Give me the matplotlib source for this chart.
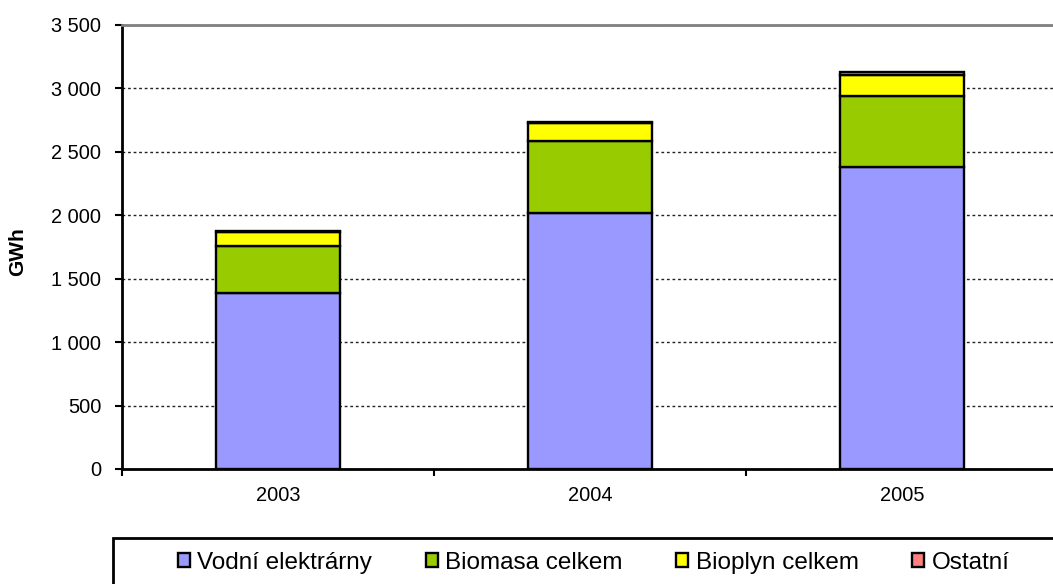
import matplotlib
matplotlib.use("Agg")
import matplotlib.pyplot as plt
from matplotlib.patches import Rectangle
from matplotlib.ticker import FuncFormatter, MultipleLocator, FixedLocator
import numpy as np

years = ["2003", "2004", "2005"]
vodni = [1387, 2016, 2381]
biomasa = [368, 567, 557]
bioplyn = [113, 145, 164]
ostatni = [5, 10, 27]

series = [
    ("Vodní elektrárny", vodni, "#9999FF"),
    ("Biomasa celkem", biomasa, "#99CC00"),
    ("Bioplyn celkem", bioplyn, "#FFFF00"),
    ("Ostatní", ostatni, "#FF8080"),
]

plt.rcParams['font.family'] = ['Liberation Sans', 'DejaVu Sans']

fig = plt.figure(figsize=(10.53, 5.84), dpi=100)
ax = fig.add_axes([122 / 1053, 1 - 469 / 584, 936 / 1053, 444 / 584])

x = np.arange(len(years))
bottom = np.zeros(len(years))
handles = []
for name, vals, color in series:
    b = ax.bar(x, vals, width=0.4, bottom=bottom, color=color,
               edgecolor="black", linewidth=1.7, label=name, zorder=3)
    bottom += np.array(vals)
    handles.append(b)

ax.set_xlim(-0.5, 2.5)
ax.set_ylim(0, 3500)
ax.yaxis.set_major_locator(MultipleLocator(500))
ax.yaxis.set_major_formatter(FuncFormatter(lambda v, p: f"{int(v):,}".replace(",", " ")))
ax.grid(axis="y", color="#222222", linestyle=(0, (2, 2)), linewidth=1.0, zorder=1)

ax.set_xticks(x)
ax.set_xticklabels(years)
ax.xaxis.set_minor_locator(FixedLocator([-0.5, 0.5, 1.5, 2.5]))
ax.tick_params(axis="x", which="major", length=0, pad=12, labelsize=14.4)
ax.tick_params(axis="x", which="minor", length=5, width=1.5, direction="out")
ax.tick_params(axis="y", length=5, width=1.5, direction="out", pad=10, labelsize=14.4)

for s in ["left", "bottom"]:
    ax.spines[s].set_linewidth(2.0)
    ax.spines[s].set_color("black")
ax.spines["top"].set_color("#808080")
ax.spines["top"].set_linewidth(2.0)
ax.spines["right"].set_visible(False)

fig.text(18 / 1053, 1 - 252 / 584, "GWh", rotation=90, fontsize=15,
         fontweight="bold", ha="center", va="center")

# legend box runs off the bottom/right of the picture
fig.patches.append(Rectangle((113 / 1053, -0.1), 1.0, 0.1 + (584 - 538) / 584,
                             transform=fig.transFigure, facecolor="white",
                             edgecolor="black", linewidth=2.0))
fig.legend(handles=handles, loc="center left",
           bbox_to_anchor=(178 / 1053, 1 - 563 / 584), ncol=4, frameon=False,
           fontsize=17.5, handlelength=0.5, handleheight=0.5,
           handletextpad=0.3, columnspacing=2.2, borderpad=0, borderaxespad=0)

fig.savefig("out.png", dpi=100)
